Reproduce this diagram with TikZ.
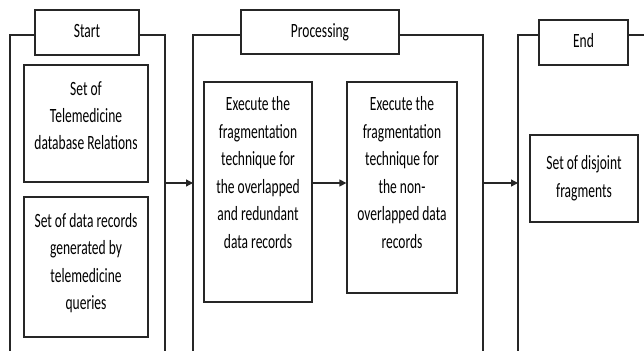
\documentclass[tikz,border=0pt]{standalone}
\usepackage{fontspec}
\setmainfont{Carlito}
\usepackage{graphicx}
\usetikzlibrary{arrows.meta}
\newcommand{\vtext}[1]{\scalebox{1}[1.5]{\begin{tabular}{@{}c@{}}#1\end{tabular}}}
\begin{document}
\begin{tikzpicture}[x=1pt,y=-1pt,
  frame/.style={draw=black!85, line width=1.3pt},
  box/.style={draw=black!85, line width=1.3pt, rectangle, inner sep=0pt},
  txt/.style={font=\fontsize{13.5}{18.3}\selectfont, text=black, inner sep=0pt},
  arr/.style={draw=black!85, line width=1.3pt, -{Triangle[length=7pt,width=7pt]}}]
\useasboundingbox[fill=white] (0,0) rectangle (644,351);
% column frames
\draw[frame] (35,35) -- (10,35) -- (10,351);
\draw[frame] (139,35) -- (165,35) -- (165,351);
\draw[frame] (241,35) -- (193,35) -- (193,351);
\draw[frame] (399,35) -- (483,35) -- (483,351);
\draw[frame] (539,35) -- (518,35) -- (518,351);
\draw[frame] (628,35) -- (644,35);
% header labels
\node[box, minimum width=104pt, minimum height=45pt] (start) at (87,32.5) {};
\node[txt] (tstart) at (87,32.5) {\vtext{Start}};
\node[box, minimum width=158pt, minimum height=44pt] (proc) at (320,32) {};
\node[txt] (tproc) at (320,32) {\vtext{Processing}};
\node[box, minimum width=89pt, minimum height=45pt] (endl) at (583.5,42.5) {};
\node[txt] (tend) at (583.5,42.5) {\vtext{End}};
% boxes
\node[box, minimum width=124pt, minimum height=117pt] (b1) at (86,123.5) {};
\node[txt] (t1) at (86,117) {\vtext{Set of\\Telemedicine\\database Relations}};
\node[box, minimum width=124pt, minimum height=140pt] (b2) at (86,267) {};
\node[txt] (t2) at (86,263) {\vtext{Set of data records\\generated by\\telemedicine\\queries}};
\node[box, minimum width=108pt, minimum height=220pt] (b3) at (258,192) {};
\node[txt] (t3) at (258,174) {\vtext{Execute the\\fragmentation\\technique for\\the overlapped\\and redundant\\data records}};
\node[box, minimum width=110pt, minimum height=211pt] (b4) at (402,187.5) {};
\node[txt] (t4) at (402,174) {\vtext{Execute the\\fragmentation\\technique for\\the non-\\overlapped data\\records}};
\node[box, minimum width=108pt, minimum height=87pt] (b5) at (584,178.5) {};
\node[txt] (t5) at (584,178) {\vtext{Set of disjoint\\fragments}};
% arrows
\coordinate (ay) at (0,183);
\coordinate (c1r) at (165,183);
\coordinate (c2l) at (193,183);
\coordinate (c2r) at (483,183);
\coordinate (c3l) at (518,183);
\draw[arr] (c1r) -- (c2l);
\draw[arr] (b3.east |- ay) -- (b4.west |- ay);
\draw[arr] (c2r) -- (c3l);
\end{tikzpicture}
\end{document}
